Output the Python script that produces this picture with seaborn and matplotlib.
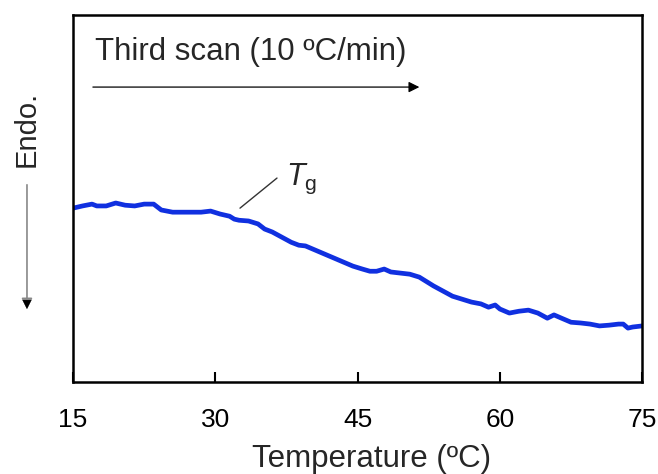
import matplotlib
matplotlib.use('Agg')
import matplotlib.pyplot as plt
import seaborn as sns
import pandas as pd

# DSC third scan, heat flow in arbitrary units (endo down)
temperature = [15.0, 16.0, 17.0, 17.5, 18.5, 19.5, 20.5, 21.5, 22.5, 23.5,
               24.3, 25.5, 27.0, 28.5, 29.5, 30.5, 31.5, 32.0, 32.5, 33.5,
               34.5, 35.2, 36.0, 37.0, 38.0, 38.8, 39.5, 40.5, 41.5, 42.5,
               43.5, 44.5, 45.5, 46.3, 47.0, 47.8, 48.5, 49.5, 50.5, 51.5,
               52.0, 53.0, 54.0, 55.0, 56.0, 57.0, 58.0, 58.8, 59.5, 60.0,
               61.0, 62.0, 63.0, 64.0, 65.0, 65.7, 66.5, 67.5, 68.5, 69.5,
               70.5, 71.5, 72.5, 73.0, 73.5, 74.0, 75.0]
heat_flow = [47.4, 48.0, 48.5, 48.0, 48.0, 48.8, 48.2, 48.0, 48.5, 48.5,
             46.9, 46.3, 46.3, 46.3, 46.6, 45.8, 45.2, 44.4, 44.1, 43.9,
             43.1, 41.7, 40.9, 39.5, 38.1, 37.3, 37.1, 36.0, 34.9, 33.8,
             32.7, 31.6, 30.8, 30.2, 30.2, 30.8, 30.0, 29.7, 29.4, 28.6,
             27.8, 26.2, 24.8, 23.4, 22.6, 21.8, 21.3, 20.4, 21.0, 19.9,
             18.8, 19.3, 19.6, 18.8, 17.4, 18.3, 17.4, 16.3, 16.1, 15.8,
             15.3, 15.5, 15.8, 15.8, 14.7, 15.0, 15.3]
xticks = [15, 30, 45, 60, 75]

df = pd.DataFrame({'T': temperature, 'HF': heat_flow})

sns.set_theme(style='ticks')
plt.rcParams['font.family'] = ['Liberation Sans', 'DejaVu Sans']
plt.rcParams['mathtext.fontset'] = 'custom'
plt.rcParams['mathtext.rm'] = 'Liberation Sans'
plt.rcParams['mathtext.it'] = 'Liberation Sans:italic'

fig = plt.figure(figsize=(6.58, 4.74), dpi=100)
ax = fig.add_axes([0.111, 0.194, 0.865, 0.774])

sns.lineplot(data=df, x='T', y='HF', ax=ax, color='#1030e0', linewidth=3.4)

ax.set_xlim(15, 75)
ax.set_ylim(0, 100)
ax.set_xticks(xticks)
ax.set_yticks([])
ax.tick_params(axis='x', direction='in', length=7, width=1.5, pad=19,
               labelsize=19, colors='black')
for s in ax.spines.values():
    s.set_linewidth(1.8)
    s.set_color('black')
ax.set_xlabel('Temperature (ºC)', fontsize=22.5, labelpad=8)
ax.xaxis.label.set_x(0.524)
ax.set_ylabel('')

ax.text(17.3, 89.9, 'Third scan (10 ºC/min)', fontsize=22.5, va='center', ha='left')
ax.annotate('', xy=(51.8, 80.4), xytext=(16.8, 80.4),
            arrowprops=dict(arrowstyle='-|>', color='black', lw=0.9,
                            mutation_scale=16))

ax.plot([32.6, 36.5], [47.4, 55.6], color='#333333', lw=1.0)
ax.text(37.5, 55.4, r'$T_{\rm g}$', fontsize=22, va='center', ha='left')

fig.text(0.040, 0.729, 'Endo.', rotation=90, fontsize=21, ha='center', va='center')
fig.patches.append(matplotlib.patches.FancyArrowPatch(
    (0.041, 0.616), (0.041, 0.342), transform=fig.transFigure,
    arrowstyle='-|>', color='#888888', lw=1.2, mutation_scale=16))
fig.patches.append(matplotlib.patches.FancyArrowPatch(
    (0.041, 0.37), (0.041, 0.342), transform=fig.transFigure,
    arrowstyle='-|>', color='black', lw=0.1, mutation_scale=16))

fig.savefig('out.png', dpi=100)
